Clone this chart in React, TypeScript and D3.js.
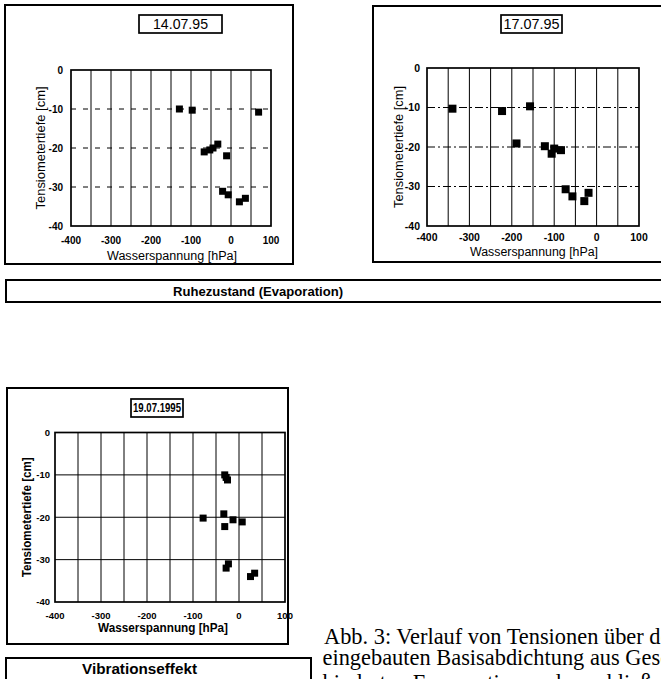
import React from "react";
import * as d3 from "d3";

// Shared axis values
const xTicks = [-400, -300, -200, -100, 0, 100];
const yTicks = [0, -10, -20, -30, -40];
const xGridLines = [-350, -300, -250, -200, -150, -100, -50, 0, 50];
const yGridLines = [-10, -20, -30];

// 14.07.95
const date1 = "14.07.95";
const x1 = [-129, -97, 69, -67, -53, -45, -33, -11, -21, -7, 21, 36];
const y1 = [-10, -10.3, -10.8, -21, -20.5, -20, -19, -22, -31.1, -32, -33.8, -32.9];

// 17.07.95
const date2 = "17.07.95";
const x2 = [-340, -223, -157, -189, -122, -100, -106, -84, -73, -57, -29, -19];
const y2 = [-10.3, -10.9, -9.7, -19.1, -19.8, -20.4, -21.7, -20.8, -30.7, -32.5, -33.7, -31.6];

// 19.07.1995
const date3 = "19.07.1995";
const x3 = [-31, -28, -25, -78, -33, -31, -13, 7, -28, -23, 25, 34];
const y3 = [-10, -10.6, -11.2, -20.2, -19.2, -22.2, -20.6, -21.1, -32, -31, -34, -33.2];

const xTitle = "Wasserspannung [hPa]";
const yTitle = "Tensiometertiefe [cm]";
const banner1 = "Ruhezustand (Evaporation)";
const banner2 = "Vibrationseffekt";
const captionLines = [
  "Abb. 3: Verlauf von Tensionen über der",
  "eingebauten Basisabdichtung aus Geschiebemergel",
  "hinderten Evaporation und anschließender",
];
const captionBaselines = [644, 665, 690];

const SANS = "'Liberation Sans', Arial, sans-serif";
const SERIF = "'Liberation Serif', 'Times New Roman', serif";

type PanelProps = {
  frame: [number, number, number, number];
  plot: [number, number, number, number];
  titleBox: [number, number, number, number];
  date: string;
  dateLen: number;
  xs: number[];
  ys: number[];
  hDash: string | undefined;
  marker: number;
  bold: boolean;
  tickSize: number;
  tickGap: number;
  xLabelY: number;
  xTitleY: number;
  xTitleX: number;
  yTitleX: number;
  titleLen: number;
  yTitleLen: number;
  dateSize: number;
};

function Panel(p: PanelProps) {
  const [pl, pt, pr, pb] = p.plot;
  const x = d3.scaleLinear().domain([-400, 100]).range([pl, pr]);
  const y = d3.scaleLinear().domain([-40, 0]).range([pb, pt]);
  const [fx, fy, fw, fh] = p.frame;
  const [tx, ty, tw, th] = p.titleBox;
  const weight = p.bold ? "bold" : "normal";
  const yMid = (pt + pb) / 2;
  return (
    <g>
      <rect x={fx} y={fy} width={fw} height={fh} fill="none" stroke="#000" strokeWidth={2} />
      <rect x={tx} y={ty} width={tw} height={th} fill="#fff" stroke="#000" strokeWidth={1.7} />
      <text
        x={tx + tw / 2}
        y={ty + th / 2 + p.dateSize * 0.36}
        textAnchor="middle"
        fontFamily={SANS}
        fontSize={p.dateSize}
        fontWeight={weight}
        textLength={p.dateLen}
        lengthAdjust="spacingAndGlyphs"
      >
        {p.date}
      </text>
      {xGridLines.map((v) => (
        <line key={"v" + v} x1={x(v)} x2={x(v)} y1={pt} y2={pb} stroke="#000" strokeWidth={1} />
      ))}
      {yGridLines.map((v) => (
        <line
          key={"h" + v}
          x1={pl}
          x2={pr}
          y1={y(v)}
          y2={y(v)}
          stroke="#000"
          strokeWidth={1}
          strokeDasharray={p.hDash}
        />
      ))}
      <rect x={pl} y={pt} width={pr - pl} height={pb - pt} fill="none" stroke="#000" strokeWidth={1.7} />
      {p.xs.map((v, i) => (
        <rect
          key={"m" + i}
          x={x(v) - p.marker / 2}
          y={y(p.ys[i]) - p.marker / 2}
          width={p.marker}
          height={p.marker}
          fill="#000"
        />
      ))}
      {yTicks.map((v) => (
        <text
          key={"yt" + v}
          x={pl - p.tickGap}
          y={y(v) + p.tickSize * 0.36}
          textAnchor="end"
          fontFamily={SANS}
          fontSize={p.tickSize}
          fontWeight="bold"
        >
          {v}
        </text>
      ))}
      {xTicks.map((v) => (
        <text
          key={"xt" + v}
          x={x(v)}
          y={p.xLabelY}
          textAnchor="middle"
          fontFamily={SANS}
          fontSize={p.tickSize}
          fontWeight="bold"
        >
          {v}
        </text>
      ))}
      <text
        x={p.xTitleX}
        y={p.xTitleY}
        textAnchor="middle"
        fontFamily={SANS}
        fontSize={12}
        fontWeight={weight}
        textLength={p.titleLen}
        lengthAdjust="spacingAndGlyphs"
      >
        {xTitle}
      </text>
      <text
        transform={`translate(${p.yTitleX},${yMid}) rotate(-90)`}
        textAnchor="middle"
        fontFamily={SANS}
        fontSize={12}
        fontWeight={weight}
        textLength={p.yTitleLen}
        lengthAdjust="spacingAndGlyphs"
      >
        {yTitle}
      </text>
    </g>
  );
}

export default function App() {
  return (
    <div style={{ position: "absolute", left: 0, top: 0 }}>
      <svg width={661} height={679} style={{ display: "block", background: "#fff" }}>
        <Panel
          frame={[5, 5, 288, 259]}
          plot={[71, 70, 271, 226]}
          titleBox={[139, 15, 83, 18]}
          date={date1}
          dateLen={55}
          xs={x1}
          ys={y1}
          hDash="5,7"
          marker={7}
          bold={false}
          tickSize={10}
          tickGap={8}
          xLabelY={244}
          xTitleY={260}
          xTitleX={172}
          yTitleX={45}
          titleLen={130}
          yTitleLen={123}
          dateSize={14}
        />
        <Panel
          frame={[373, 6, 300, 256]}
          plot={[427, 68, 639, 226]}
          titleBox={[501, 15, 61, 18]}
          date={date2}
          dateLen={56}
          xs={x2}
          ys={y2}
          hDash="8,3,2,3"
          marker={8}
          bold={false}
          tickSize={10.5}
          tickGap={7}
          xLabelY={241}
          xTitleY={256}
          xTitleX={534}
          yTitleX={403}
          titleLen={128}
          yTitleLen={122}
          dateSize={14}
        />
        <Panel
          frame={[7, 388, 281, 256]}
          plot={[55, 432.5, 285, 602]}
          titleBox={[131, 399, 52, 18]}
          date={date3}
          dateLen={48}
          xs={x3}
          ys={y3}
          hDash={undefined}
          marker={7}
          bold={true}
          tickSize={9.5}
          tickGap={5}
          xLabelY={619}
          xTitleY={632}
          xTitleX={163}
          yTitleX={31}
          titleLen={130}
          yTitleLen={120}
          dateSize={12}
        />
        <rect x={6} y={280} width={670} height={22} fill="none" stroke="#000" strokeWidth={2} />
        <text
          x={258}
          y={296}
          textAnchor="middle"
          fontFamily={SANS}
          fontSize={13}
          fontWeight="bold"
          textLength={170}
          lengthAdjust="spacingAndGlyphs"
        >
          {banner1}
        </text>
        <rect x={6} y={658} width={305} height={30} fill="none" stroke="#000" strokeWidth={2} />
        <text
          x={139.5}
          y={674}
          textAnchor="middle"
          fontFamily={SANS}
          fontSize={14}
          fontWeight="bold"
          textLength={115}
          lengthAdjust="spacingAndGlyphs"
        >
          {banner2}
        </text>
        {captionLines.map((t, i) => (
          <text key={"c" + i} x={i === 0 ? 324 : 322.5} y={captionBaselines[i]} fontFamily={SERIF} fontSize={22.4}>
            {t}
          </text>
        ))}
      </svg>
    </div>
  );
}
